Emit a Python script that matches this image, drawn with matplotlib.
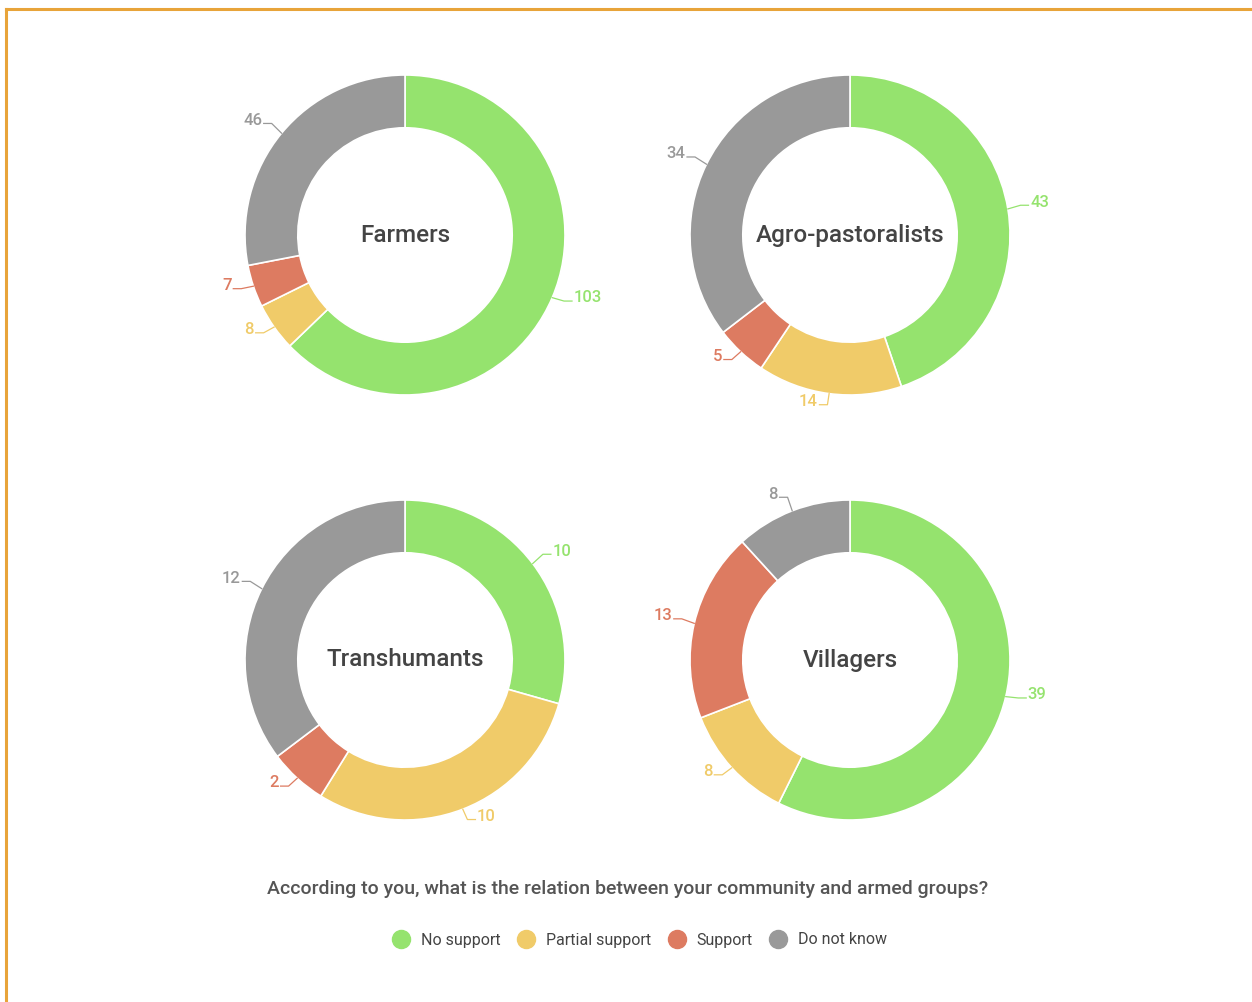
import matplotlib

matplotlib.use("Agg")
import matplotlib.pyplot as plt
import numpy as np
from matplotlib.lines import Line2D

plt.rcParams["font.family"] = ["Roboto", "DejaVu Sans"]

# data
categories = ["No support", "Partial support", "Support", "Do not know"]
groups = ["Farmers", "Agro-pastoralists", "Transhumants", "Villagers"]
farmers = [103, 8, 7, 46]
agro_pastoralists = [43, 14, 5, 34]
transhumants = [10, 10, 2, 12]
villagers = [39, 8, 13, 8]
question = "According to you, what is the relation between your community and armed groups?"

colors = ["#95e36e", "#f0cb69", "#dd7b61", "#999999"]
series = [farmers, agro_pastoralists, transhumants, villagers]

W, H = 1252, 1002
fig = plt.figure(figsize=(W / 100, H / 100), dpi=100)

# donut centres in pixels (from top-left)
centres = [(405, 235), (850, 235), (405, 660), (850, 660)]
box = 420  # axis size in px
lim = 1.3125  # so that radius 1 == 160 px

for name, values, (cx, cy) in zip(groups, series, centres):
    ax = fig.add_axes([(cx - box / 2) / W, 1 - (cy + box / 2) / H, box / W, box / H])
    wedges, _ = ax.pie(
        values,
        colors=colors,
        startangle=90,
        counterclock=False,
        radius=1.0,
        wedgeprops=dict(width=0.33, edgecolor="white", linewidth=1.2),
    )
    ax.set_xlim(-lim, lim)
    ax.set_ylim(-lim, lim)
    ax.set_aspect("equal")
    ax.axis("off")
    ax.text(0, 0, name, ha="center", va="center", fontsize=17.5,
            color="#444444", fontweight="medium")

    for wedge, value, color in zip(wedges, values, colors):
        theta = np.deg2rad((wedge.theta1 + wedge.theta2) / 2)
        c, s = np.cos(theta), np.sin(theta)
        side = 1 if c >= 0 else -1
        x0, y0 = c * 1.0, s * 1.0
        x1, y1 = c * 1.08, s * 1.08 + 0.01
        x2 = x1 + side * 0.05
        ax.plot([x0, x1, x2], [y0, y1, y1], color=color, linewidth=0.9,
                clip_on=False)
        ax.text(x2 + side * 0.01, y1 + 0.02, str(value),
                ha="left" if side > 0 else "right",
                va="center", fontsize=12, color=color, fontweight="medium")

fig.text(628 / W, 1 - 889 / H, question, ha="center", va="center",
         fontsize=14, color="#555555", fontweight="medium")

handles = [
    Line2D([], [], marker="o", linestyle="none", markersize=13,
           markerfacecolor=col, markeredgecolor=col, label=cat)
    for cat, col in zip(categories, colors)
]
fig.legend(handles=handles, loc="center", bbox_to_anchor=(636 / W, 1 - 940 / H),
           ncol=4, frameon=False, fontsize=11.5, handletextpad=0.25,
           columnspacing=0.6, labelcolor="#444444")

# orange frame (top and left edges only)
fig.add_artist(Line2D([6 / W, 1], [1 - 9 / H, 1 - 9 / H], color="#e8a43a",
                      linewidth=2.2, transform=fig.transFigure))
fig.add_artist(Line2D([6 / W, 6 / W], [0, 1 - 9 / H], color="#e8a43a",
                      linewidth=2.2, transform=fig.transFigure))

fig.savefig("out.png", dpi=100, facecolor="white")
